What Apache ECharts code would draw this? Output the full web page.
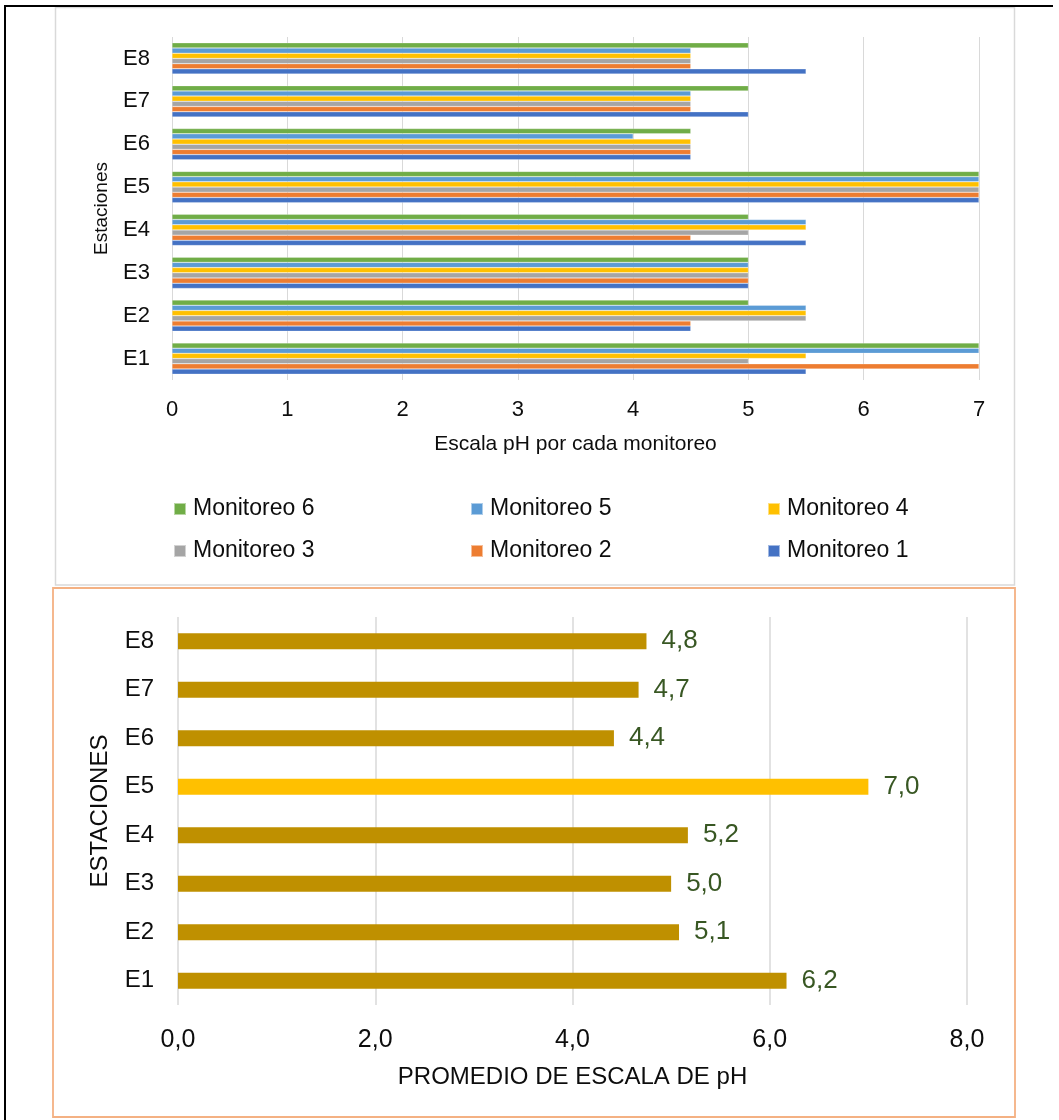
<!DOCTYPE html>
<html>
<head>
<meta charset="utf-8">
<script src="https://cdn.jsdelivr.net/npm/echarts@6/dist/echarts.min.js"></script>
<style>
html,body{margin:0;padding:0;background:#fff;}
#chart{width:1059px;height:1120px;}
</style>
</head>
<body>
<div id="chart"></div>
<script>
// ---- Data ----
const stations = ['E1','E2','E3','E4','E5','E6','E7','E8'];
const monitoreo1 = [5.5, 4.5, 5, 5.5, 7, 4.5, 5, 5.5];
const monitoreo2 = [7, 4.5, 5, 4.5, 7, 4.5, 4.5, 4.5];
const monitoreo3 = [5, 5.5, 5, 5, 7, 4.5, 4.5, 4.5];
const monitoreo4 = [5.5, 5.5, 5, 5.5, 7, 4.5, 4.5, 4.5];
const monitoreo5 = [7, 5.5, 5, 5.5, 7, 4, 4.5, 4.5];
const monitoreo6 = [7, 5, 5, 5, 7, 4.5, 5, 5];
const seriesNames = ['Monitoreo 6','Monitoreo 5','Monitoreo 4','Monitoreo 3','Monitoreo 2','Monitoreo 1'];
const promedio = [6.17, 5.08, 5.0, 5.17, 7.0, 4.42, 4.67, 4.75];
const highlightStation = 'E5';
const topTicks = [0,1,2,3,4,5,6,7];
const bottomTicks = [0,2,4,6,8];

// ---- Styles ----
const FONT = 'Arial, "Liberation Sans", sans-serif';
const TXT = '#0d0d0d';
const colors = {
  'Monitoreo 1':'#4472C4','Monitoreo 2':'#ED7D31','Monitoreo 3':'#A5A5A5',
  'Monitoreo 4':'#FFC000','Monitoreo 5':'#5B9BD5','Monitoreo 6':'#70AD47'
};
const monthly = {
  'Monitoreo 1':monitoreo1,'Monitoreo 2':monitoreo2,'Monitoreo 3':monitoreo3,
  'Monitoreo 4':monitoreo4,'Monitoreo 5':monitoreo5,'Monitoreo 6':monitoreo6
};
const comma = v => Number(v).toFixed(1).replace('.', ',');

const topSeries = seriesNames.map(n => ({
  name: n, type: 'bar', xAxisIndex: 0, yAxisIndex: 0,
  data: monthly[n],
  barGap: '0%', barCategoryGap: '27%',
  itemStyle: { color: colors[n], borderColor: 'rgba(255,255,255,0.5)', borderWidth: 0.5 },
  emphasis: { disabled: true }
}));

const legendCommon = {
  orient: 'horizontal', itemWidth: 12, itemHeight: 12, icon: 'rect',
  itemGap: 154, selectedMode: false, padding: 0,
  textStyle: { fontFamily: FONT, fontSize: 23, color: TXT, width: 123, lineHeight: 26, padding: [0,0,0,2] }
};

const option = {
  animation: false,
  backgroundColor: '#ffffff',
  graphic: [
    { type: 'rect', shape: { x: 55.5, y: 7.5, width: 959, height: 577.5 }, style: { fill: 'none', stroke: '#D9D9D9', lineWidth: 1.5 }, z: -1 },
    { type: 'rect', shape: { x: 53, y: 588, width: 962, height: 529 }, style: { fill: 'none', stroke: '#F4B183', lineWidth: 1.8 }, z: -1 },
    { type: 'line', shape: { x1: 4, y1: 6, x2: 1053, y2: 6 }, style: { stroke: '#000', lineWidth: 2 } },
    { type: 'line', shape: { x1: 5, y1: 5, x2: 5, y2: 1120 }, style: { stroke: '#000', lineWidth: 2 } }
  ],
  legend: [
    Object.assign({}, legendCommon, { left: 173, top: 496, data: seriesNames.slice(0,3) }),
    Object.assign({}, legendCommon, { left: 173, top: 538, data: seriesNames.slice(3,6) })
  ],
  grid: [
    { left: 172, width: 807, top: 37, height: 343, containLabel: false },
    { left: 178, width: 789, top: 617, height: 388, containLabel: false }
  ],
  xAxis: [
    {
      type: 'value', gridIndex: 0, min: 0, max: 7, interval: 1,
      axisLine: { show: false }, axisTick: { show: false },
      splitLine: { show: true, lineStyle: { color: '#D9D9D9', width: 1 } },
      axisLabel: { fontFamily: FONT, fontSize: 22, color: TXT, margin: 19,
        formatter: v => topTicks.includes(v) ? String(v) : '' },
      name: 'Escala pH por cada monitoreo', nameLocation: 'middle', nameGap: 54,
      nameTextStyle: { fontFamily: FONT, fontSize: 21, color: TXT }
    },
    {
      type: 'value', gridIndex: 1, min: 0, max: 8, interval: 2,
      axisLine: { show: false }, axisTick: { show: false },
      splitLine: { show: true, lineStyle: { color: '#D9D9D9', width: 1.5 } },
      axisLabel: { fontFamily: FONT, fontSize: 25, color: TXT, margin: 23,
        formatter: v => bottomTicks.includes(v) ? comma(v) : '' },
      name: 'PROMEDIO DE ESCALA DE pH', nameLocation: 'middle', nameGap: 60,
      nameTextStyle: { fontFamily: FONT, fontSize: 24, color: TXT }
    }
  ],
  yAxis: [
    {
      type: 'category', gridIndex: 0, data: stations,
      axisLine: { show: false }, axisTick: { show: false },
      axisLabel: { fontFamily: FONT, fontSize: 22, color: TXT, margin: 22 },
      name: 'Estaciones', nameLocation: 'middle', nameGap: 61, nameRotate: 90,
      nameTextStyle: { fontFamily: FONT, fontSize: 19, color: TXT }
    },
    {
      type: 'category', gridIndex: 1, data: stations,
      axisLine: { show: false }, axisTick: { show: false },
      axisLabel: { fontFamily: FONT, fontSize: 24, color: TXT, margin: 24 },
      name: 'ESTACIONES', nameLocation: 'middle', nameGap: 66, nameRotate: 90,
      nameTextStyle: { fontFamily: FONT, fontSize: 24, color: TXT }
    }
  ],
  series: topSeries.concat([{
    name: 'Promedio', type: 'bar', xAxisIndex: 1, yAxisIndex: 1,
    data: promedio.map((v, i) => ({
      value: v,
      itemStyle: { color: stations[i] === highlightStation ? '#FFC000' : '#BF9000' }
    })),
    barWidth: 16,
    label: { show: true, position: 'right', distance: 15, fontFamily: FONT, fontSize: 26,
      color: '#385723', formatter: p => comma(p.value) },
    emphasis: { disabled: true }
  }])
};

const chart = echarts.init(document.getElementById('chart'), null, { renderer: 'canvas' });
chart.setOption(option);
</script>
</body>
</html>
